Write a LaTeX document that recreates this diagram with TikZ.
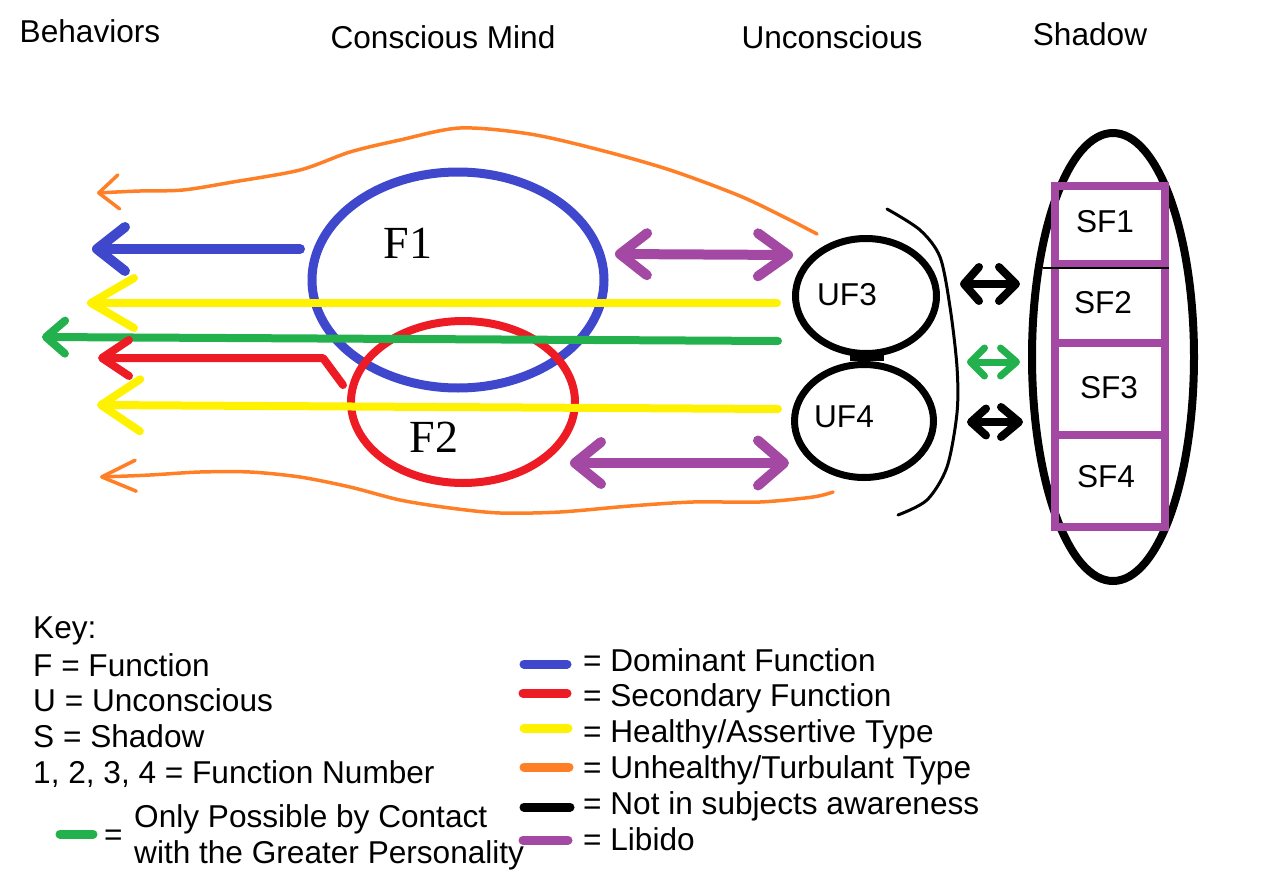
\documentclass[tikz,border=0pt]{standalone}
\usepackage{fontspec}
\setmainfont{Liberation Sans}
\newfontfamily\serifF{Liberation Serif}
\usetikzlibrary{arrows.meta,shapes.geometric}
\definecolor{pblue}{HTML}{3F48CC}
\definecolor{pred}{HTML}{ED1C24}
\definecolor{pyellow}{HTML}{FFF200}
\definecolor{pgreen}{HTML}{22B14C}
\definecolor{porange}{HTML}{FF7F27}
\definecolor{ppurple}{HTML}{A349A4}
\newcommand\txtsz{\fontsize{31.6}{37}\selectfont}
\newcommand\bigsz{\fontsize{46}{52}\selectfont}
\tikzset{
  stroke/.style={line width=#1, line cap=round, line join=round},
  txt/.style={inner sep=0pt, font=\txtsz, anchor=base},
  ltxt/.style={inner sep=0pt, font=\txtsz, anchor=base west},
  ftxt/.style={inner sep=0pt, font=\serifF\bigsz, anchor=base},
  oval/.style={ellipse, draw, inner sep=0pt},
  swatch/.style={line width=9pt, line cap=round},
}
\begin{document}
\begin{tikzpicture}[x=1pt,y=-1pt]
\useasboundingbox (0,0) rectangle (1280,878);

% titles
\node[txt] (tBeh) at (90,42) {Behaviors};
\node[txt] (tCon) at (443,48) {Conscious Mind};
\node[txt] (tUnc) at (832,48) {Unconscious};
\node[txt] (tSha) at (1090,45) {Shadow};

% conscious functions
\node[oval, draw=pblue, line width=9pt, minimum width=292pt, minimum height=216pt] (F1) at (458,280) {};
\node[oval, draw=pred, line width=8pt, minimum width=224pt, minimum height=162pt] (F2) at (463,402) {};
\node[ftxt] (F1t) at (408,258) {F1};
\node[ftxt] (F2t) at (434,452) {F2};

% unconscious functions
\node[oval, line width=7pt, minimum width=141pt, minimum height=115pt] (UF3) at (866,296) {};
\node[oval, line width=7pt, minimum width=139pt, minimum height=113pt] (UF4) at (864,421) {};
\draw[line width=8pt] ([xshift=-16pt]UF3.south) -- ([xshift=18pt]UF3.south);
\node[txt] (UF3t) at (847,305) {UF3};
\node[txt] (UF4t) at (844,427) {UF4};

% boundary arc
\draw[stroke=3pt] plot[smooth] coordinates {(887,209) (920,230) (940,257) (950,307) (957,367) (957,413) (947,467) (927,500) (898,515)};

% shadow
\node[oval, line width=8pt, minimum width=162pt, minimum height=448pt] (Sh) at (1113,357) {};
\node[draw=ppurple, line width=8pt, minimum width=110pt, minimum height=78pt, inner sep=0pt] (B1) at (1110,225) {};
\node[draw=ppurple, line width=8pt, minimum width=110pt, minimum height=79pt, inner sep=0pt] (B2) at (1110,303.5) {};
\node[draw=ppurple, line width=8pt, minimum width=110pt, minimum height=92pt, inner sep=0pt] (B3) at (1110,389) {};
\node[draw=ppurple, line width=8pt, minimum width=110pt, minimum height=92pt, inner sep=0pt] (B4) at (1110,481) {};
\draw[line width=1.5pt] ([xshift=-8pt]B1.south west) -- (B1.south east);
\node[txt] (SF1) at (1105,232) {SF1};
\node[txt] (SF2) at (1103,313) {SF2};
\node[txt] (SF3) at (1109,398) {SF3};
\node[txt] (SF4) at (1106,487) {SF4};

% arrow end points
\coordinate (blueS) at (300,249);  \coordinate (blueE) at (92,249);
\coordinate (y1S) at (777,303);    \coordinate (y1E) at (87,303);
\coordinate (gS) at (778,341);     \coordinate (gE) at (42,337);
\coordinate (rS) at (343,385);     \coordinate (rK) at (323,358);  \coordinate (rE) at (98,358);
\coordinate (y2S) at (778,409);    \coordinate (y2E) at (97,405);
\coordinate (p1L) at (615,254);    \coordinate (p1R) at (793,255);
\coordinate (p2L) at (570,463);    \coordinate (p2R) at (789,463);
\coordinate (k1L) at (960,284);    \coordinate (k1R) at (1020,284);
\coordinate (g2L) at (967,362);    \coordinate (g2R) at (1020,362);
\coordinate (k2L) at (967,422);    \coordinate (k2R) at (1023,422);

% behaviour arrows
\draw[pblue, stroke=10pt, -{Straight Barb[round, length=28pt, width=44pt]}] (blueS) -- (blueE);
\draw[pyellow, stroke=8pt, -{Straight Barb[round, length=43pt, width=50pt]}] (y1S) -- (y1E);
\draw[pgreen, stroke=8pt, -{Straight Barb[round, length=19pt, width=33pt]}] (gS) -- (gE);
\draw[pred, stroke=8pt, -{Straight Barb[round, length=27pt, width=36pt]}] (rS) -- (rK) -- (rE);
\draw[pyellow, stroke=8pt, -{Straight Barb[round, length=39pt, width=52pt]}] (y2S) -- (y2E);

% orange arrows
\draw[porange, stroke=3.5pt, {Straight Barb[round, length=20pt, width=34pt]}-] plot[smooth] coordinates {(97,193) (140,191) (183,190) (233,182) (300,170) (350,152) (400,140) (460,128) (530,134) (600,150) (670,170) (740,196) (790,220) (817,234)};
\draw[porange, stroke=3.5pt, {Straight Barb[round, length=34pt, width=31pt]}-] plot[smooth] coordinates {(100,477) (150,475) (200,472) (250,472) (300,477) (350,487) (400,500) (450,508) (500,513) (560,512) (630,506) (693,502) (760,502) (813,497) (833,492)};

% libido arrows
\draw[ppurple, stroke=10pt, {Straight Barb[round, length=27pt, width=42pt]}-{Straight Barb[round, length=30pt, width=43pt]}] (p1L) -- (p1R);
\draw[ppurple, stroke=10pt, {Straight Barb[round, length=26pt, width=42pt]}-{Straight Barb[round, length=26pt, width=45pt]}] (p2L) -- (p2R);

% shadow arrows
\draw[stroke=8pt, {Straight Barb[round, length=15pt, width=34pt]}-{Straight Barb[round, length=17pt, width=34pt]}] (k1L) -- (k1R);
\draw[pgreen, stroke=7pt, {Straight Barb[round, length=14pt, width=28pt]}-{Straight Barb[round, length=16pt, width=28pt]}] (g2L) -- (g2R);
\draw[stroke=8pt, {Straight Barb[round, length=15pt, width=27pt]}-{Straight Barb[round, length=18pt, width=30pt]}] (k2L) -- (k2R);

% key, left column
\node[ltxt] (k0) at (33,638) {Key:};
\node[ltxt] (k1) at (33,676) {F = Function};
\node[ltxt] (k2) at (33,711) {U = Unconscious};
\node[ltxt] (k3) at (33,747) {S = Shadow};
\node[ltxt] (k4) at (33,783) {1, 2, 3, 4 = Function Number};
\coordinate (sgA) at (60,834); \coordinate (sgB) at (93,834);
\draw[pgreen, swatch] (sgA) -- (sgB);
\node[ltxt] (keq) at (104,845) {=};
\node[ltxt] (k5) at (134,827) {Only Possible by Contact};
\node[ltxt] (k6) at (134,863) {with the Greater Personality};

% key, right column
\coordinate (s1A) at (524,664); \coordinate (s1B) at (567,664);
\coordinate (s2A) at (523,693); \coordinate (s2B) at (567,693);
\coordinate (s3A) at (524,728); \coordinate (s3B) at (568,728);
\coordinate (s4A) at (524,767); \coordinate (s4B) at (569,767);
\coordinate (s5A) at (524,807); \coordinate (s5B) at (570,807);
\coordinate (s6A) at (523,840); \coordinate (s6B) at (568,840);
\draw[pblue, swatch] (s1A) -- (s1B);
\draw[pred, swatch] (s2A) -- (s2B);
\draw[pyellow, swatch] (s3A) -- (s3B);
\draw[porange, swatch] (s4A) -- (s4B);
\draw[black, swatch] (s5A) -- (s5B);
\draw[ppurple, swatch] (s6A) -- (s6B);
\node[ltxt] (r1) at (583,671) {= Dominant Function};
\node[ltxt] (r2) at (583,706) {= Secondary Function};
\node[ltxt] (r3) at (583,742) {= Healthy/Assertive Type};
\node[ltxt] (r4) at (583,778) {= Unhealthy/Turbulant Type};
\node[ltxt] (r5) at (583,814) {= Not in subjects awareness};
\node[ltxt] (r6) at (583,850) {= Libido};
\end{tikzpicture}
\end{document}
